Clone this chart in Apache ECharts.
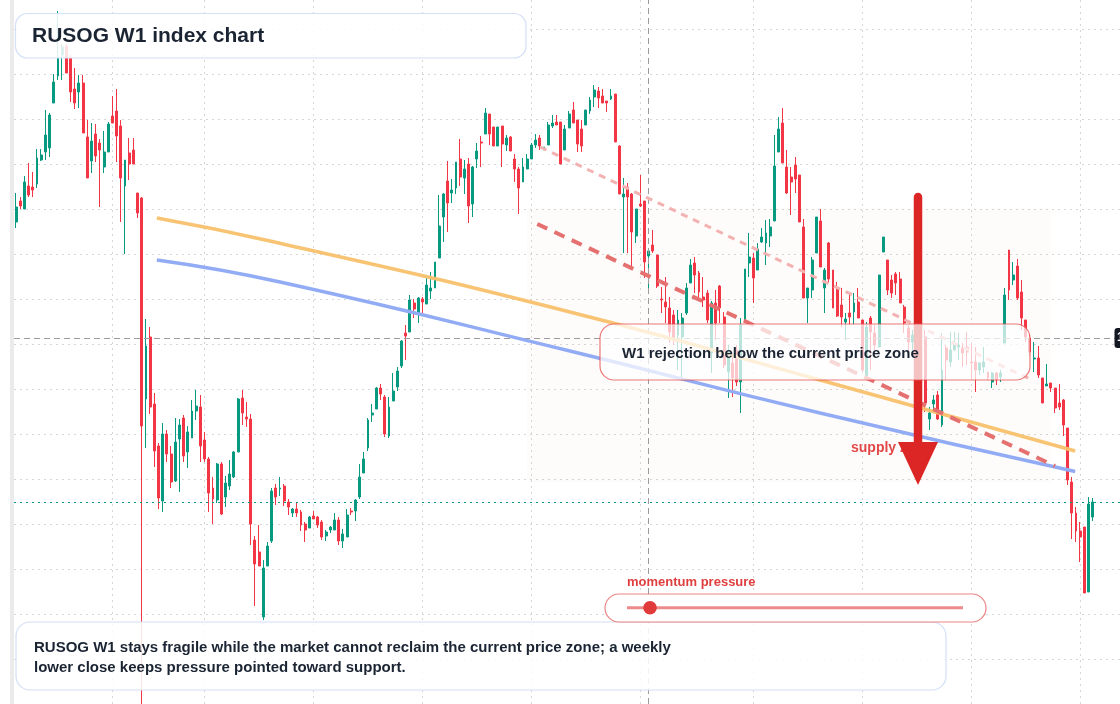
<!DOCTYPE html>
<html><head><meta charset="utf-8">
<script src="https://cdn.jsdelivr.net/npm/echarts@6/dist/echarts.min.js"></script>
<style>html,body{margin:0;padding:0;background:#fff;overflow:hidden}#c{width:1120px;height:704px}</style>
</head><body><div id="c"></div>
<script>
// ---- weekly candles (price units) ----
const opens = [
1382,1403,1395,1418,1417,1420,1444,1452,1456,1501,
1528,1549,1558,1546,1515,1512,1521,1467,1443,1470,
1461,1437,1452,1488,1493,1478,1418,1451,1454,1411,
1406,1205,1267,1200,1158,1103,1170,1150,1123,1165,
1186,1152,1166,1193,1197,1164,1145,1116,1104,1140,
1107,1118,1127,1152,1206,1187,1185,1064,1052,987,
1038,1063,1116,1115,1118,1102,1091,1095,1092,1080,
1076,1088,1087,1082,1068,1074,1074,1084,1063,1067,
1093,1093,1107,1131,1156,1189,1195,1216,1207,1168,
1203,1217,1238,1271,1272,1301,1291,1305,1300,1313,
1316,1346,1387,1423,1411,1416,1445,1426,1440,1400,
1445,1462,1470,1490,1477,1458,1478,1459,1467,1445,
1435,1422,1435,1445,1459,1466,1454,1459,1478,1482,
1482,1454,1476,1494,1484,1475,1479,1493,1507,1513,
1508,1503,1505,1510,1458,1407,1417,1410,1368,1400,
1403,1348,1359,1349,1305,1302,1296,1289,1269,1267,
1291,1321,1341,1331,1307,1311,1251,1301,1318,1287,
1232,1241,1254,1222,1285,1341,1346,1334,1362,1361,
1368,1383,1452,1481,1437,1427,1439,1429,1377,1306,
1314,1351,1383,1316,1361,1334,1316,1299,1282,1291,
1292,1302,1284,1227,1286,1271,1257,1352,1344,1324,
1330,1325,1297,1276,1262,1270,1259,1267,1185,1200,
1209,1179,1256,1242,1254,1257,1256,1257,1242,1242,
1234,1237,1232,1222,1231,1227,1261,1354,1324,1338,
1312,1284,1266,1245,1246,1226,1218,1221,1216,1201,
1204,1176,1122,1091,1073,1077,1012,1087];
const closes = [
1397,1398,1422,1409,1414,1446,1449,1469,1489,1522,
1546,1557,1531,1512,1501,1521,1471,1426,1463,1448,
1454,1452,1480,1481,1468,1426,1444,1440,1440,1391,
1178,1258,1197,1153,1106,1170,1150,1122,1162,1179,
1148,1172,1193,1198,1158,1145,1111,1105,1140,1090,
1121,1130,1152,1205,1191,1185,1080,1040,1038,1036,
1058,1113,1107,1116,1103,1097,1095,1091,1079,1074,
1087,1085,1079,1067,1072,1077,1084,1063,1070,1089,
1092,1104,1127,1145,1184,1191,1216,1210,1170,1197,
1213,1233,1263,1268,1304,1295,1306,1302,1319,1316,
1342,1378,1410,1401,1414,1442,1427,1435,1398,1437,
1453,1461,1491,1470,1458,1477,1460,1466,1453,1435,
1416,1437,1445,1459,1464,1458,1457,1479,1481,1479,
1440,1475,1490,1481,1460,1458,1494,1504,1514,1506,
1501,1501,1508,1462,1410,1410,1407,1372,1395,1398,
1342,1353,1353,1318,1304,1297,1272,1264,1284,1286,
1316,1339,1329,1312,1304,1284,1301,1281,1296,1239,
1252,1226,1222,1279,1335,1347,1326,1355,1367,1371,
1377,1438,1475,1441,1411,1422,1425,1382,1306,1316,
1344,1387,1337,1334,1325,1296,1288,1287,1285,1287,
1301,1286,1234,1277,1272,1259,1329,1367,1314,1311,
1321,1301,1281,1262,1269,1259,1267,1201,1191,1204,
1185,1234,1244,1254,1261,1259,1251,1252,1241,1234,
1241,1242,1226,1231,1224,1231,1309,1314,1329,1306,
1286,1267,1252,1246,1229,1201,1220,1216,1196,1197,
1179,1124,1091,1073,1067,1011,1100,1102];
const lows = [
1376,1395,1395,1407,1407,1416,1443,1444,1447,1501,
1524,1524,1531,1502,1495,1496,1471,1426,1431,1442,
1397,1431,1452,1481,1442,1382,1350,1424,1440,1386,
890,1156,1190,1137,1095,1092,1142,1116,1122,1112,
1142,1136,1166,1184,1142,1142,1092,1080,1101,1089,
1097,1114,1126,1152,1179,1177,1059,998,1038,984,
1038,1061,1099,1108,1098,1089,1087,1087,1073,1062,
1076,1085,1076,1064,1063,1071,1074,1059,1056,1067,
1089,1083,1105,1131,1153,1182,1195,1204,1167,1166,
1203,1213,1236,1244,1272,1286,1281,1289,1300,1305,
1316,1346,1362,1372,1401,1410,1418,1410,1381,1387,
1436,1437,1470,1459,1458,1458,1437,1453,1453,1422,
1390,1422,1435,1445,1456,1454,1454,1459,1476,1479,
1440,1454,1476,1481,1452,1452,1479,1490,1497,1496,
1501,1492,1504,1462,1410,1351,1351,1337,1361,1397,
1326,1316,1351,1316,1291,1281,1261,1259,1234,1224,
1289,1321,1311,1304,1297,1281,1231,1264,1281,1236,
1206,1207,1218,1191,1281,1327,1301,1334,1361,1339,
1357,1383,1452,1441,1410,1389,1411,1382,1306,1281,
1306,1351,1337,1291,1321,1296,1287,1277,1264,1279,
1279,1286,1232,1224,1234,1254,1257,1352,1309,1306,
1309,1301,1271,1254,1254,1252,1254,1192,1174,1191,
1184,1177,1224,1237,1254,1244,1237,1239,1224,1212,
1229,1231,1224,1216,1219,1222,1261,1304,1319,1304,
1274,1262,1248,1232,1226,1201,1218,1212,1191,1194,
1168,1119,1065,1062,1042,1011,1012,1083];
const highs = [
1411,1407,1428,1441,1432,1455,1455,1494,1491,1530,
1593,1560,1560,1549,1536,1529,1529,1484,1481,1480,
1465,1473,1482,1508,1515,1484,1444,1466,1466,1411,
1407,1285,1277,1211,1161,1181,1174,1158,1186,1185,
1189,1178,1204,1214,1209,1172,1147,1127,1141,1142,
1128,1144,1153,1206,1214,1202,1190,1068,1079,1044,
1062,1116,1120,1127,1120,1105,1096,1102,1094,1082,
1088,1093,1088,1084,1074,1078,1091,1087,1075,1095,
1096,1105,1140,1152,1186,1200,1217,1220,1209,1207,
1231,1237,1264,1279,1309,1305,1307,1307,1326,1332,
1342,1409,1411,1443,1425,1442,1465,1444,1446,1438,
1461,1468,1496,1490,1477,1477,1478,1469,1468,1450,
1437,1446,1450,1461,1470,1469,1457,1482,1489,1489,
1482,1479,1493,1502,1484,1484,1494,1507,1519,1517,
1515,1503,1515,1510,1459,1426,1421,1411,1395,1429,
1403,1353,1374,1349,1317,1327,1307,1294,1294,1291,
1321,1345,1347,1333,1327,1314,1303,1314,1319,1292,
1259,1249,1259,1286,1335,1371,1351,1361,1376,1384,
1385,1469,1487,1496,1454,1437,1447,1429,1385,1316,
1347,1387,1395,1336,1362,1334,1322,1316,1291,1309,
1311,1316,1284,1282,1288,1279,1329,1367,1344,1329,
1332,1332,1299,1279,1274,1276,1272,1274,1197,1209,
1213,1271,1259,1272,1272,1271,1261,1272,1261,1257,
1242,1257,1232,1232,1232,1234,1316,1354,1342,1345,
1324,1284,1270,1262,1258,1226,1240,1221,1216,1220,
1205,1176,1127,1097,1082,1077,1107,1106];

// ---- axis / reference values ----
const axisSlots = 264;                 // weekly slots on the time axis
const priceMin = 900, priceMax = 1604, priceStep = 45;
const gridWeeks = [23, 45, 71, 97, 123, 149, 176, 202, 228, 254];
const lastClose = closes[closes.length - 1];
const crossWeek = 151;
const crossPrice = 1266;
// ---- drawn studies (week index, price) ----
const orangeTrend = [[33.6,1386],[60.6,1363],[132.2,1292],[191.9,1224],[252.8,1153]];
const blueTrend   = [[33.6,1344],[63.0,1322],[132.2,1253],[191.9,1191],[252.8,1132.5]];
const redChannel  = [[124.4,1380],[248.0,1138]];
const pinkChannel = [[125.1,1457],[242.0,1225]];
const zoneWeeks = [122, 247];
const zonePrices = [1122, 1396];

const weeks = Array.from({length: axisSlots}, (_, i) => 'W' + (i + 1));
const candleData = opens.map((o, i) => [o, closes[i], lows[i], highs[i]]);

const F = '"Liberation Sans", Arial, Helvetica, sans-serif';
const chart = echarts.init(document.getElementById('c'), null, {renderer: 'canvas'});

chart.setOption({
  animation: false,
  backgroundColor: '#ffffff',
  grid: {left: 14, right: 0, top: 0, bottom: 0},
  xAxis: [
    {type: 'category', data: weeks, boundaryGap: true,
     axisLine: {show: false}, axisTick: {show: false}, axisLabel: {show: false}, splitLine: {show: false}},
    {type: 'value', min: -0.5, max: axisSlots - 0.5, show: false, splitLine: {show: false}}
  ],
  yAxis: {type: 'value', min: priceMin, max: priceMax, interval: priceStep,
    axisLine: {show: false}, axisTick: {show: false}, axisLabel: {show: false},
    splitLine: {show: true, showMinLine: false, showMaxLine: false,
      lineStyle: {color: '#d6d6d6', width: 1, type: [2, 4]}}},
  series: [
    {
      type: 'candlestick', data: candleData, barWidth: 2.4, silent: true,
      itemStyle: {color: '#089981', color0: '#f23645', borderColor: '#089981', borderColor0: '#f23645', borderWidth: 1},
      markLine: {
        silent: true, symbol: 'none', z: 1, label: {show: false},
        lineStyle: {color: '#d6d6d6', width: 1, type: [2, 4]},
        data: gridWeeks.map(w => ({xAxis: weeks[w]}))
      },
      markArea: {
        silent: true,
        itemStyle: {color: 'rgba(236,170,120,0.035)'},
        data: [[{xAxis: weeks[zoneWeeks[0]], yAxis: zonePrices[1]}, {xAxis: weeks[zoneWeeks[1]], yAxis: zonePrices[0]}]]
      }
    },
    {
      type: 'line', xAxisIndex: 1, data: orangeTrend, smooth: 0.5, symbol: 'none', silent: true,
      lineStyle: {color: '#f8c16b', width: 3.6, opacity: 0.95},
      markLine: {
        silent: true, symbol: 'none', label: {show: false}, z: 3,
        data: [
          {xAxis: crossWeek, lineStyle: {color: '#9b9b9b', width: 1, type: [6, 4]}},
          {yAxis: crossPrice, lineStyle: {color: '#9b9b9b', width: 1, type: [6, 4]}},
          {yAxis: lastClose, lineStyle: {color: '#089981', width: 1, type: [2, 4]}}
        ]
      }
    },
    {type: 'line', xAxisIndex: 1, data: blueTrend, smooth: 0.5, symbol: 'none', silent: true,
      lineStyle: {color: '#92abf5', width: 3.4}},
    {type: 'line', xAxisIndex: 1, data: pinkChannel, symbol: 'none', silent: true,
      lineStyle: {color: '#f3b2b2', width: 3, type: [7, 6]}},
    {type: 'line', xAxisIndex: 1, data: redChannel, symbol: 'none', silent: true,
      lineStyle: {color: '#e57070', width: 4, type: [11, 8]}}
  ],
  graphic: [
    {type: 'rect', z: 100, silent: true, shape: {x: 10, y: 0, width: 4, height: 704}, style: {fill: '#ebebeb'}},
    {type: 'text', z: 101, silent: true, style: {text: 'supply zone', x: 851, y: 448, verticalAlign: 'middle', font: 'bold 14px ' + F, fill: '#e14848'}},
    {type: 'line', z: 102, silent: true, shape: {x1: 918, y1: 197, x2: 918, y2: 446}, style: {stroke: '#dc2626', lineWidth: 8.5, lineCap: 'round'}},
    {type: 'polygon', z: 102, silent: true, shape: {points: [[898, 442], [938, 442], [918, 485]]}, style: {fill: '#dc2626'}},
    {type: 'rect', z: 103, silent: true, shape: {x: 600, y: 324, width: 430, height: 56, r: 14},
      style: {fill: 'rgba(255,255,255,0.72)', stroke: 'rgba(228,76,76,0.75)', lineWidth: 1.2}},
    {type: 'text', z: 104, silent: true, style: {text: 'W1 rejection below the current price zone', x: 622, y: 354, verticalAlign: 'middle', font: 'bold 15px ' + F, fill: '#1b2433'}},
    {type: 'rect', z: 103, silent: true, shape: {x: 15.5, y: 13.5, width: 510.5, height: 44.5, r: 12},
      style: {fill: 'rgba(255,255,255,0.86)', stroke: '#d3e0f6', lineWidth: 1.2}},
    {type: 'text', z: 104, silent: true, style: {text: 'RUSOG W1 index chart', x: 32, y: 36, verticalAlign: 'middle', font: 'bold 21px ' + F, fill: '#1b2433'}},
    {type: 'rect', z: 103, silent: true, shape: {x: 16, y: 622, width: 930, height: 68, r: 14},
      style: {fill: 'rgba(255,255,255,0.86)', stroke: '#d3e0f6', lineWidth: 1.2}},
    {type: 'text', z: 104, silent: true, style: {text: 'RUSOG W1 stays fragile while the market cannot reclaim the current price zone; a weekly', x: 34, y: 648, verticalAlign: 'middle', font: 'bold 15px ' + F, fill: '#1b2433'}},
    {type: 'text', z: 104, silent: true, style: {text: 'lower close keeps pressure pointed toward support.', x: 34, y: 668, verticalAlign: 'middle', font: 'bold 15px ' + F, fill: '#1b2433'}},
    {type: 'rect', z: 105, silent: true, shape: {x: 605, y: 594, width: 381, height: 28, r: 14},
      style: {fill: '#ffffff', stroke: 'rgba(228,80,80,0.7)', lineWidth: 1.2}},
    {type: 'line', z: 106, silent: true, shape: {x1: 627, y1: 607.7, x2: 963, y2: 607.7}, style: {stroke: 'rgba(228,90,90,0.7)', lineWidth: 3}},
    {type: 'circle', z: 107, silent: true, shape: {cx: 650, cy: 607.7, r: 6.8}, style: {fill: '#e03a3a'}},
    {type: 'text', z: 106, silent: true, style: {text: 'momentum pressure', x: 627, y: 582.5, verticalAlign: 'middle', font: 'bold 13px ' + F, fill: '#e03e3e'}},
    {type: 'rect', z: 106, silent: true, shape: {x: 1114.5, y: 328, width: 60, height: 20, r: 3}, style: {fill: '#131722'}},
    {type: 'text', z: 107, silent: true, style: {text: String(crossPrice), x: 1117, y: 338, verticalAlign: 'middle', font: 'bold 12px ' + F, fill: '#ffffff'}}
  ]
});
</script>
</body></html>
